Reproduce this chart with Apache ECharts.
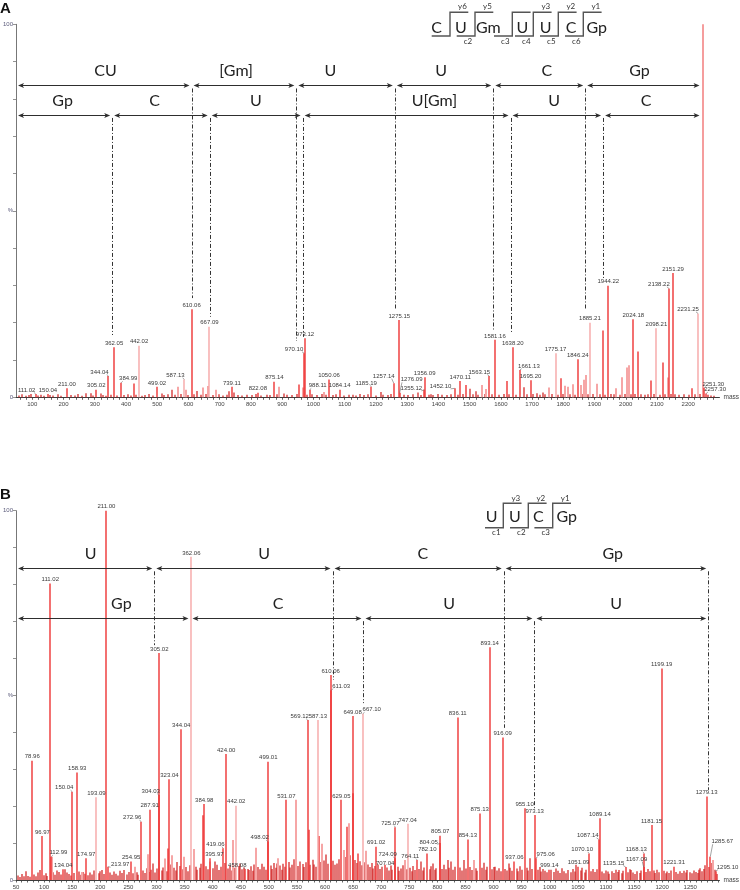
<!DOCTYPE html>
<html><head><meta charset="utf-8">
<script src="https://cdn.jsdelivr.net/npm/echarts@6/dist/echarts.min.js"></script>
<style>html,body{margin:0;padding:0;background:#fff}#c{width:740px;height:890px}</style>
</head><body><div id="c"></div>
<script>
// ---------------- DATA (m/z, relative intensity %) ----------------
// Panel A
const A_LABELED = [[111.02,0.9],[150.04,0.9],[211.00,2.4],[305.02,2.0],[344.04,5.7],[362.05,13.4],[384.99,3.9],[442.02,13.8],[499.02,2.8],[587.13,4.8],[610.06,23.6],[667.09,18.9],[739.11,2.8],[822.08,1.2],[875.14,4.2],[970.10,11.8],[973.12,15.8],[988.11,2.0],[1050.06,4.8],[1084.14,2.0],[1185.19,2.8],[1257.14,3.8],[1275.15,20.7],[1276.09,1.2],[1355.12,2.0],[1356.09,5.4],[1452.10,2.4],[1470.11,4.4],[1563.15,5.7],[1581.16,15.4],[1638.20,13.4],[1661.13,7.3],[1695.20,4.6],[1775.17,11.8],[1846.24,10.2],[1885.21,20.0],[1944.22,29.9],[2024.18,20.9],[2098.21,18.5],[2138.22,29.2],[2151.29,33.3],[2231.25,22.5],[2251.30,2.5],[2257.30,1.0]];
const A_BASE_PEAK = [[2247,100]];
const A_RED_MINOR = [[425,3.7],[954,3.4],[1488,3.3],[1620,4.4],[1793,5.1],[1926,17.9],[2039,12.3],[2081,4.5],[2119,9.3],[2213,2.4]];
const A_PINK_MINOR = [[568,2.8],[592,2.0],[647,2.6],[663,3.0],[689,2.0],[890,2.8],[968,2.6],[1033,1.4],[1541,3.3],[1554,2.2],[1753,2.6],[1806,3.1],[1814,2.8],[1832,3.5],[1856,3.3],[1867,4.7],[1874,6.0],[1909,3.6],[1970,2.4],[1987,5.4],[2004,8.0],[2009,8.6],[2134,5.3]];
const A_NOISE = [[58,0.5],[66,0.8],[79,0.4],[88,0.6],[97,0.9],[118,0.5],[127,0.7],[139,0.4],[158,0.6],[166,0.5],[181,0.8],[193,0.4],[224,0.6],[236,0.5],[247,0.9],[259,0.4],[271,1.1],[287,1.1],[293,0.5],[319,1.0],[328,0.6],[336,0.4],[351,0.7],[371,0.5],[393,0.6],[405,0.8],[417,0.5],[433,0.7],[452,0.4],[461,0.6],[474,0.9],[487,0.5],[515,1.0],[521,0.6],[533,0.8],[546,2.0],[556,0.7],[575,0.9],[598,0.6],[617,0.8],[626,1.7],[639,0.7],[655,0.9],[679,0.6],[697,0.8],[712,0.5],[724,0.7],[731,1.6],[747,1.3],[758,0.6],[771,0.5],[789,0.7],[802,0.6],[815,0.9],[833,0.5],[851,0.7],[862,0.6],[884,0.8],[906,1.0],[917,0.7],[931,0.6],[948,0.9],[979,0.7],[996,0.8],[1012,0.6],[1027,0.9],[1041,0.7],[1062,0.6],[1073,0.8],[1098,0.5],[1113,0.7],[1128,0.7],[1136,0.5],[1150,0.9],[1161,0.6],[1174,0.8],[1199,0.5],[1215,1.4],[1224,0.7],[1238,0.6],[1249,0.9],[1289,0.7],[1302,0.6],[1318,0.8],[1335,1.3],[1343,0.6],[1369,0.7],[1377,0.8],[1384,0.6],[1398,0.9],[1413,0.7],[1427,0.6],[1441,0.8],[1462,0.7],[1479,0.9],[1501,2.3],[1512,0.8],[1520,1.6],[1528,0.7],[1549,0.9],[1571,0.8],[1594,0.7],[1609,0.9],[1627,0.8],[1649,0.7],[1674,2.7],[1684,0.8],[1703,0.9],[1716,1.1],[1726,0.7],[1734,1.3],[1742,0.8],[1764,0.9],[1783,0.7],[1799,0.9],[1821,0.8],[1838,0.7],[1861,0.9],[1879,0.8],[1894,0.9],[1916,0.8],[1933,0.7],[1952,0.9],[1961,0.8],[1981,0.7],[1996,0.9],[2017,0.8],[2031,0.9],[2049,0.8],[2062,0.7],[2071,0.8],[2089,0.9],[2109,0.7],[2127,0.8],[2146,0.9],[2159,0.8],[2172,0.7],[2188,0.8],[2204,0.7],[2221,0.8],[2238,0.9],[2262,0.7],[2273,0.5],[2284,0.4]];
const A_TICK_LABELS = [100,200,300,400,500,600,700,800,900,1000,1100,1200,1300,1400,1500,1600,1700,1800,1900,2000,2100,2200];

// Panel B
const B_LABELED = [[78.96,32.3],[96.97,11.9],[111.02,80.3],[112.99,6.3],[134.04,2.9],[150.04,23.9],[158.93,29.1],[174.97,5.9],[193.09,22.4],[211.00,100],[213.97,3.6],[254.95,5.0],[272.96,15.8],[287.91,19.0],[304.03,23.0],[305.02,61.5],[323.04,27.3],[344.04,40.8],[362.06,87.5],[384.98,20.6],[395.97,5.9],[419.06,8.6],[424.00,34.1],[442.02,20.1],[458.08,3.0],[498.02,10.4],[499.01,32.0],[531.07,21.7],[569.12,43.3],[587.13,43.3],[610.06,55.5],[611.03,51.4],[629.05,21.7],[649.08,44.4],[667.10,45.0],[691.02,9.0],[707.04,4.1],[724.09,5.9],[725.07,14.3],[747.04,15.2],[764.11,5.4],[782.10,7.2],[804.05,10.0],[805.07,12.0],[836.11,44.0],[854.13,11.0],[875.13,18.0],[893.14,63.0],[916.09,38.6],[937.06,5.0],[955.10,19.4],[973.13,17.6],[975.06,5.9],[999.14,2.8],[1051.09,3.6],[1070.10,7.2],[1087.14,11.0],[1089.14,16.7],[1135.15,3.5],[1167.09,3.5],[1168.13,7.2],[1181.15,14.9],[1199.19,57.3],[1221.31,3.6],[1279.13,22.6],[1285.67,6.3],[1295.10,2.4]];
const B_RED_MINOR = [[321,8.5],[383,17.5],[571,13.6],[589,11.9],[639,14.4],[650,23.5],[659,7.2]];
const B_PINK_MINOR = [[114,6.3],[168,2.2],[261,3.6],[285,7.0],[315,5.8],[328,6.7],[349,6.3],[367,8.4],[395,5.0],[437,10.8],[477,8.7],[517,5.9],[548,21.7],[595,9.8],[633,8.1],[642,15.4],[673,7.9],[742,5.4],[865,5.4],[1291,5.4]];
const B_NOISE = [[53,1.2],[57,0.8],[61,1.6],[64,1.0],[68,2.4],[72,1.1],[75,0.9],[82,1.5],[85,1.0],[89,2.0],[92,2.7],[99,1.3],[103,1.8],[106,1.1],[116,2.1],[119,1.4],[123,2.6],[127,2.2],[130,1.5],[137,2.9],[140,2.0],[144,1.6],[147,1.2],[153,1.9],[162,2.3],[166,1.4],[169,2.2],[172,1.7],[178,1.3],[181,2.0],[185,1.5],[188,2.6],[197,1.8],[200,2.4],[203,2.7],[207,1.6],[217,2.0],[221,1.4],[224,2.3],[228,1.7],[231,1.2],[235,2.5],[239,1.9],[243,2.7],[247,1.5],[251,2.2],[258,1.8],[262,2.6],[265,2.1],[268,1.4],[276,2.6],[279,1.9],[283,3.2],[286,2.2],[291,2.8],[294,4.5],[298,2.0],[301,3.1],[309,2.6],[312,3.4],[316,3.0],[319,2.4],[326,4.2],[331,3.3],[334,2.6],[337,4.9],[341,3.8],[347,2.9],[353,3.5],[356,2.4],[359,4.0],[370,3.6],[373,2.8],[377,3.3],[380,4.4],[389,3.7],[392,2.9],[401,3.2],[404,5.0],[407,4.1],[411,2.7],[415,3.6],[422,4.6],[427,3.1],[430,3.9],[434,2.6],[440,3.3],[446,3.8],[449,4.5],[452,2.9],[455,3.4],[462,3.0],[465,2.7],[468,3.7],[471,2.5],[474,4.2],[481,3.5],[484,2.9],[487,4.4],[492,3.6],[495,2.8],[503,3.9],[506,3.0],[509,4.6],[512,3.3],[515,4.5],[520,3.9],[523,2.8],[525,4.4],[528,3.6],[535,4.9],[538,3.4],[541,4.1],[544,5.6],[552,3.8],[556,5.0],[560,4.3],[563,3.5],[566,4.8],[574,4.1],[578,5.5],[581,4.2],[584,3.6],[592,4.9],[598,5.3],[602,6.9],[605,4.4],[615,5.2],[618,4.1],[622,4.5],[625,5.6],[636,6.2],[645,6.7],[653,5.4],[656,4.6],[662,5.1],[665,4.0],[671,4.8],[677,4.2],[680,3.5],[683,4.6],[686,3.1],[689,3.8],[695,4.2],[698,3.0],[701,3.6],[711,3.4],[714,2.6],[717,3.9],[720,2.8],[729,3.6],[732,2.5],[735,3.1],[738,4.0],[745,2.9],[751,3.3],[754,2.4],[757,3.8],[760,2.7],[767,3.0],[771,5.0],[774,2.6],[777,3.4],[786,2.9],[789,3.7],[792,4.5],[795,2.8],[798,3.2],[809,3.0],[812,4.1],[815,2.9],[818,5.4],[821,3.3],[824,5.0],[828,2.8],[831,3.6],[840,3.4],[843,2.6],[847,5.4],[850,3.1],[858,3.5],[861,2.7],[868,3.2],[871,2.5],[879,3.3],[883,4.7],[886,2.8],[889,3.6],[897,2.9],[900,3.5],[903,3.6],[906,2.6],[910,3.2],[913,2.4],[920,3.0],[923,2.6],[927,4.5],[930,3.3],[933,2.5],[941,3.1],[944,2.4],[947,3.7],[950,2.8],[959,3.3],[962,2.6],[965,5.9],[968,3.0],[979,2.8],[982,3.5],[985,2.3],[988,3.0],[992,2.5],[995,2.1],[1003,2.8],[1007,2.2],[1011,3.1],[1015,2.5],[1019,1.9],[1021,3.2],[1025,2.4],[1029,1.8],[1033,2.7],[1037,2.1],[1041,3.0],[1044,2.3],[1047,4.1],[1055,2.6],[1058,3.3],[1062,2.0],[1065,2.8],[1074,2.4],[1077,3.0],[1080,2.2],[1084,2.9],[1093,2.3],[1096,1.8],[1100,2.6],[1103,2.3],[1106,1.7],[1110,2.4],[1114,1.9],[1118,2.8],[1121,2.2],[1124,2.7],[1128,1.8],[1131,2.5],[1139,2.1],[1142,2.9],[1145,2.7],[1148,2.0],[1152,1.6],[1156,2.4],[1160,1.9],[1163,2.6],[1172,2.2],[1175,3.0],[1178,2.4],[1185,2.6],[1188,1.9],[1191,2.8],[1194,2.1],[1203,2.5],[1206,1.8],[1209,2.3],[1213,1.9],[1216,2.6],[1225,2.2],[1228,1.7],[1231,2.4],[1235,1.9],[1238,2.5],[1242,2.0],[1245,2.7],[1249,2.1],[1253,1.8],[1256,2.6],[1260,2.2],[1263,1.9],[1266,2.8],[1268,3.2],[1271,2.4],[1274,3.0],[1277,4.0],[1283,3.5],[1288,4.6],[1294,2.8],[1298,1.6]];
const B_TICK_LABELS = [50,100,150,200,250,300,350,400,450,500,550,600,650,700,750,800,850,900,950,1000,1050,1100,1150,1200,1250];

// Fragment ladders (arrows): boundaries (m/z), labels, label positions (m/z)
const A_ROW1_BOUNDS = [48,609.9,945.5,1260.7,1575.9,1870.2,2242.6];
const A_ROW1_TEXT = ['CU','[Gm]','U','U','C','Gp'];
const A_ROW1_TEXT_MZ = [334.7,752.8,1054.3,1409,1747.4,2043.9];
const A_ROW2_BOUNDS = [48,355.9,668,965.5,1631.2,1927.4,2242.6];
const A_ROW2_TEXT = ['Gp','C','U','U[Gm]','U','C'];
const A_ROW2_TEXT_MZ = [197.2,491.5,816.3,1387.7,1770.9,2064.9];
// dash-dot drop lines: [m/z, row, end intensity]
const A_DROPS = [[609.9,1,26.6],[945.5,1,15.1],[1260.7,1,23.4],[1575.9,1,18.0],[1870.2,1,23.4],[355.9,2,16.7],[668,2,21.6],[965.5,2,16.2],[1631.2,2,17.2],[1927.4,2,32.0]];

const B_ROW1_BOUNDS = [50,296.1,613.3,918,1282];
const B_ROW1_TEXT = ['U','U','C','Gp'];
const B_ROW1_TEXT_MZ = [182.9,491.6,773.9,1112];
const B_ROW2_BOUNDS = [50,360.5,668.4,972.7,1282];
const B_ROW2_TEXT = ['Gp','C','U','U'];
const B_ROW2_TEXT_MZ = [237.5,516.3,821,1117.9];
const B_DROPS = [[296.1,1,63.6],[613.3,1,54.2],[918,1,41.2],[1282,1,24.4],[668.4,2,47.9],[972.7,2,19.0]];

// ---------------- STYLE / LAYOUT ----------------
const ROW_LEVEL = {A:[83.6,75.7], B:[84.4,70.9]};
const PINK_LABELED = new Set(['442.02','667.09','1775.17','1885.21','2231.25','2098.21','362.06','193.09','587.13','667.10','747.04']);
const A_SHIFT = {'111.02':[-9,0],'344.04':[-9,0],'384.99':[7,0],'587.13':[-9,0],'970.10':[-10,0],'988.11':[8,0],'1185.19':[-5,0],'1257.14':[-10,-3],'1276.09':[12,-9],'1355.12':[-13,2.5],'1452.10':[-14,2],'1563.15':[-10,0],'1661.13':[9,0],'2138.22':[-10,0],'2231.25':[-10,0],'2251.30':[9,0],'2257.30':[9,0]};
const B_SHIFT = {'112.99':[7,0],'150.04':[-8,0],'213.97':[12,2],'272.96':[-9,0],'304.03':[-8,0],'395.97':[4,0],'419.06':[-8,0],'458.08':[-8,0],'498.02':[-8,0],'569.12':[-8,0],'611.03':[10,0],'667.10':[9,0],'707.04':[0,2],'724.09':[-7,0],'725.07':[-5,0],'764.11':[-7,0],'804.05':[-11,3],'975.06':[10,0],'1070.10':[-7,0],'1087.14':[-11,0],'1135.15':[-12,0],'1167.09':[-7,-4],'1168.13':[-8,0],'1285.67':[12,-11],'1295.10':[12,0]};
const RED = '#ee3434', PINK = '#f6a6a6', NOISE = '#d01a1a', BASE_PEAK = '#f27c7c';
const NUM_FONT = '6px "Liberation Sans", Arial, sans-serif';
const SEQ_FONT = '16px Lato, "Open Sans", sans-serif';
const SMALL_FONT = '8px Lato, "Open Sans", sans-serif';

function peakSeries(data, gi, colorFn, w, z){
  return {type:'custom', xAxisIndex:gi, yAxisIndex:gi, data:data, z:z, silent:true, animation:false,
    renderItem:function(p, api){
      const m = api.value(0), h = api.value(1);
      const a = api.coord([m,0]), b = api.coord([m,h]);
      const x = Math.round(a[0]);
      return {type:'line', shape:{x1:x,y1:a[1],x2:x,y2:b[1]}, style:{stroke:colorFn(m), lineWidth:w}};
    }};
}
function labelSeries(data, gi, shifts){
  return {type:'custom', xAxisIndex:gi, yAxisIndex:gi, data:data, z:8, silent:true, animation:false,
    renderItem:function(p, api){
      const m = api.value(0), h = api.value(1);
      const key = m.toFixed(2);
      const b = api.coord([m,h]);
      const s = shifts[key] || [0,0];
      const cx = b[0] + s[0], cy = b[1] - 4 + s[1];
      const children = [{type:'text', style:{text:key, x:cx, y:cy, font:NUM_FONT, fill:'#3a3a3a', textAlign:'center', textVerticalAlign:'middle', align:'center', verticalAlign:'middle'}}];
      if (Math.abs(s[0]) >= 5 || Math.abs(s[1]) >= 5) {
        const sx = cx - Math.sign(s[0]) * Math.min(10, Math.abs(s[0]) * 0.8);
        children.push({type:'line', shape:{x1:sx, y1:cy+2.5, x2:b[0], y2:b[1]}, style:{stroke:'#666', lineWidth:0.6}});
      }
      return {type:'group', children:children};
    }};
}
function buildArrows(rows){
  const out = [];
  rows.forEach(function(r){
    for (let i=0;i<r.bounds.length-1;i++) out.push({m1:r.bounds[i], m2:r.bounds[i+1], lvl:r.lvl, text:r.text[i], tm:r.tm[i]});
  });
  return out;
}
function arrowSeries(arrows, gi){
  return {type:'custom', xAxisIndex:gi, yAxisIndex:gi, z:9, silent:true, animation:false,
    data: arrows.map(function(a){return [a.m1, a.lvl];}),
    renderItem:function(p, api){
      const a = arrows[p.dataIndex];
      const p1 = api.coord([a.m1, a.lvl]), p2 = api.coord([a.m2, a.lvl]);
      const tp = api.coord([a.tm, a.lvl]);
      const y = Math.round(p1[1]) + 0.5;
      const x1 = p1[0] + 2, x2 = p2[0] - 2;
      const col = '#2e2e2e';
      return {type:'group', children:[
        {type:'line', shape:{x1:x1+2,y1:y,x2:x2-2,y2:y}, style:{stroke:col, lineWidth:1.2}},
        {type:'polygon', shape:{points:[[x1,y],[x1+6,y-2.6],[x1+4.5,y],[x1+6,y+2.6]]}, style:{fill:col}},
        {type:'polygon', shape:{points:[[x2,y],[x2-6,y-2.6],[x2-4.5,y],[x2-6,y+2.6]]}, style:{fill:col}},
        {type:'text', style:{text:a.text, x:tp[0], y:y-14.5, font:SEQ_FONT, fill:'#222', textAlign:'center', textVerticalAlign:'middle', align:'center', verticalAlign:'middle'}}
      ]};
    }};
}
function dropSeries(drops, levels, gi){
  return {type:'custom', xAxisIndex:gi, yAxisIndex:gi, z:9, silent:true, animation:false,
    data: drops.map(function(d){return [d[0], d[2]];}),
    renderItem:function(p, api){
      const d = drops[p.dataIndex];
      const t = api.coord([d[0], levels[d[1]-1]]), b = api.coord([d[0], d[2]]);
      const x = Math.round(t[0]) + 0.5;
      return {type:'line', shape:{x1:x,y1:t[1]+3,x2:x,y2:b[1]}, style:{stroke:'#333', lineWidth:1, lineDash:[4,2,1,2]}};
    }};
}

const A_ARROWS = buildArrows([
  {bounds:A_ROW1_BOUNDS, text:A_ROW1_TEXT, tm:A_ROW1_TEXT_MZ, lvl:ROW_LEVEL.A[0]},
  {bounds:A_ROW2_BOUNDS, text:A_ROW2_TEXT, tm:A_ROW2_TEXT_MZ, lvl:ROW_LEVEL.A[1]}]);
const B_ARROWS = buildArrows([
  {bounds:B_ROW1_BOUNDS, text:B_ROW1_TEXT, tm:B_ROW1_TEXT_MZ, lvl:ROW_LEVEL.B[0]},
  {bounds:B_ROW2_BOUNDS, text:B_ROW2_TEXT, tm:B_ROW2_TEXT_MZ, lvl:ROW_LEVEL.B[1]}]);

function minorTicks(lo, hi, step){ const t=[]; for (let v=lo; v<=hi; v+=step) t.push(v); return t; }

function xAxis(gi, min, max, labels, ticks){
  return {type:'value', gridIndex:gi, min:min, max:max, name:'mass', nameLocation:'end', nameGap:4,
    nameTextStyle:{fontSize:6.5, color:'#444', fontFamily:'Liberation Sans'},
    axisLine:{lineStyle:{color:'#3c3c3c', width:1}},
    axisTick:{show:true, customValues:ticks, length:2.5, lineStyle:{color:'#3c3c3c', width:0.8}},
    axisLabel:{customValues:labels, fontSize:6, color:'#444', margin:4, fontFamily:'Liberation Sans',
      formatter:function(v){return String(v);}},
    splitLine:{show:false}};
}
function yAxis(gi){
  return {type:'value', gridIndex:gi, min:0, max:100, interval:10,
    axisLine:{show:true, lineStyle:{color:'#777', width:1}},
    axisTick:{show:true, length:3, lineStyle:{color:'#777', width:0.8}},
    axisLabel:{customValues:[0,50,100], fontSize:6, color:'#5a5a7a', margin:3, fontFamily:'Liberation Sans',
      formatter:function(v){return v===50 ? '%' : String(v);}},
    splitLine:{show:false}};
}

// sequence ladders (decorative diagram)
function ladder(cfg){
  const g = [];
  cfg.text.forEach(function(t){ g.push({type:'text', style:{text:t[0], x:t[1], y:cfg.ty, font:SEQ_FONT, fill:'#222', textAlign:'center', textVerticalAlign:'middle', align:'center', verticalAlign:'middle'}}); });
  cfg.v.forEach(function(v, i){
    g.push({type:'polyline', shape:{points:[[v-18.3,cfg.bot],[v,cfg.bot],[v,cfg.top],[v+18.3,cfg.top]]}, style:{stroke:'#555', lineWidth:1.4, fill:null}});
    if (cfg.c[i]) g.push({type:'text', style:{text:cfg.c[i], x:v-7, y:cfg.cy, font:SMALL_FONT, fill:'#333', textAlign:'center', textVerticalAlign:'middle', align:'center', verticalAlign:'middle'}});
    if (cfg.y[i]) g.push({type:'text', style:{text:cfg.y[i], x:v+12.5, y:cfg.yy, font:SMALL_FONT, fill:'#333', textAlign:'center', textVerticalAlign:'middle', align:'center', verticalAlign:'middle'}});
  });
  return g;
}
const LADDER_A = {text:[['C',436.7],['U',461],['Gm',488.3],['U',522.3],['U',545.7],['C',571],['Gp',596.7]],
  v:[450,475,512.3,533.3,558.3,583.3], c:[null,'c2','c3','c4','c5','c6'], y:['y6','y5',null,'y3','y2','y1'],
  top:12.3, bot:36, ty:28, cy:41.5, yy:6};
const LADDER_B = {text:[['U',491.7],['U',515],['C',538.3],['Gp',566.7]],
  v:[503.3,528.3,552.7], c:['c1','c2','c3'], y:['y3','y2','y1'],
  top:503.3, bot:527.7, ty:516.7, cy:532.5, yy:498.3};

const redFn = function(){ return RED; }, pinkFn = function(){ return PINK; }, noiseFn = function(){ return NOISE; }, baseFn = function(){ return BASE_PEAK; };
const labeledFn = function(m){ return PINK_LABELED.has(m.toFixed(2)) ? PINK : RED; };

const option = {
  animation:false,
  backgroundColor:'#fff',
  grid:[{left:13, top:24.3, width:709, height:373}, {left:13, top:510.7, width:709.7, height:369.3}],
  xAxis:[xAxis(0,48,2300,A_TICK_LABELS,minorTicks(60,2280,20)), xAxis(1,50,1302,B_TICK_LABELS,minorTicks(50,1300,10))],
  yAxis:[yAxis(0), yAxis(1)],
  graphic:[].concat(
    [{type:'text', style:{text:'A', x:0, y:8.5, font:'bold 15px "Liberation Sans", Arial', fill:'#111', textVerticalAlign:'middle', verticalAlign:'middle'}},
     {type:'text', style:{text:'B', x:0, y:495, font:'bold 15px "Liberation Sans", Arial', fill:'#111', textVerticalAlign:'middle', verticalAlign:'middle'}}],
    ladder(LADDER_A), ladder(LADDER_B)),
  series:[
    peakSeries(A_NOISE,0,noiseFn,1.2,2),
    peakSeries(A_PINK_MINOR,0,pinkFn,2,3),
    peakSeries(A_RED_MINOR,0,redFn,1.4,4),
    peakSeries(A_BASE_PEAK,0,baseFn,1.5,4),
    peakSeries(A_LABELED,0,labeledFn,1.4,5),
    labelSeries(A_LABELED,0,A_SHIFT),
    arrowSeries(A_ARROWS,0),
    dropSeries(A_DROPS,ROW_LEVEL.A,0),
    peakSeries(B_NOISE,1,noiseFn,1.2,2),
    peakSeries(B_PINK_MINOR,1,pinkFn,2,3),
    peakSeries(B_RED_MINOR,1,redFn,1.4,4),
    peakSeries(B_LABELED,1,labeledFn,1.4,5),
    labelSeries(B_LABELED,1,B_SHIFT),
    arrowSeries(B_ARROWS,1),
    dropSeries(B_DROPS,ROW_LEVEL.B,1)
  ]
};
const chart = echarts.init(document.getElementById('c'));
chart.setOption(option);
</script>
</body></html>
